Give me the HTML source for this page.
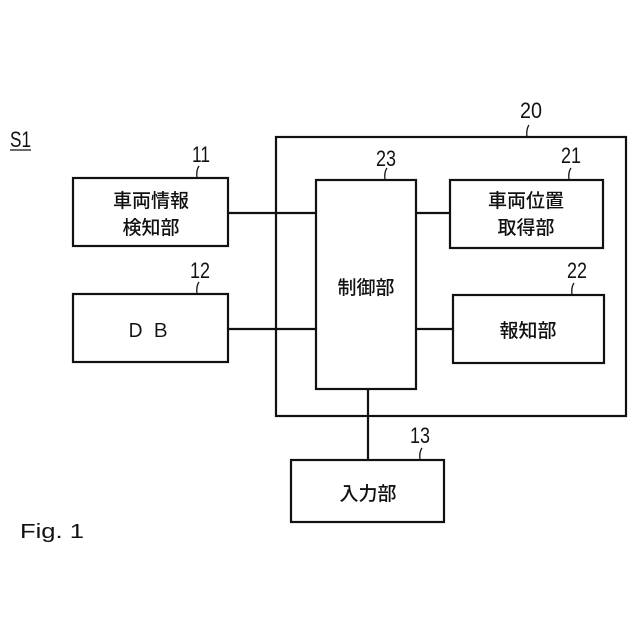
<!DOCTYPE html>
<html><head><meta charset="utf-8"><style>
html,body{margin:0;padding:0;background:#fff;}
svg{display:block;}
text{font-family:"Liberation Sans","Noto Sans CJK JP",sans-serif;fill:#111;}
</style></head><body>
<svg width="640" height="640" viewBox="0 0 640 640" xmlns="http://www.w3.org/2000/svg">
<g fill="none" stroke="#111" stroke-width="2.2">
<rect x="276" y="137" width="350" height="279"/>
<rect x="73" y="178" width="155" height="68"/>
<rect x="73" y="294" width="155" height="68"/>
<rect x="316" y="180" width="100" height="209"/>
<rect x="450" y="180" width="153" height="68"/>
<rect x="453" y="295" width="151" height="68"/>
<rect x="291" y="460" width="153" height="62"/>
<line x1="228" y1="213" x2="316" y2="213"/>
<line x1="228" y1="329" x2="316" y2="329"/>
<line x1="416" y1="213" x2="450" y2="213"/>
<line x1="416" y1="329" x2="453" y2="329"/>
<line x1="368" y1="389" x2="368" y2="460"/>
<line x1="10" y1="150" x2="31" y2="150" stroke-width="1.3"/>
</g>
<g fill="none" stroke="#111" stroke-width="1.3">
<path d="M197 178 q-1 -8 2 -12"/>
<path d="M197 294 q-1 -8 2 -12"/>
<path d="M385 180 q-1 -8 2 -12"/>
<path d="M569 180 q-1 -8 2 -12"/>
<path d="M572 295 q-1 -8 2 -12"/>
<path d="M527 137 q-1 -8 2 -12"/>
<path d="M420 460 q-1 -8 2 -12"/>
</g>
<g font-size="22">
<text x="10" y="147" textLength="21" lengthAdjust="spacingAndGlyphs">S1</text>
<text x="192" y="162" textLength="18" lengthAdjust="spacingAndGlyphs">11</text>
<text x="190" y="278" textLength="20" lengthAdjust="spacingAndGlyphs">12</text>
<text x="376" y="166" textLength="20" lengthAdjust="spacingAndGlyphs">23</text>
<text x="561" y="163" textLength="20" lengthAdjust="spacingAndGlyphs">21</text>
<text x="567" y="278" textLength="20" lengthAdjust="spacingAndGlyphs">22</text>
<text x="520" y="118" textLength="22" lengthAdjust="spacingAndGlyphs">20</text>
<text x="410" y="443" textLength="20" lengthAdjust="spacingAndGlyphs">13</text>
</g>
<g font-size="19" font-weight="500" text-anchor="middle">
<text x="151" y="207">車両情報</text>
<text x="151" y="234">検知部</text>
<text x="151" y="337" letter-spacing="6" font-weight="normal">ＤＢ</text>
<text x="366" y="294">制御部</text>
<text x="526" y="207">車両位置</text>
<text x="526" y="234">取得部</text>
<text x="528" y="337">報知部</text>
<text x="368" y="500">入力部</text>
</g>
<text x="20" y="538" font-size="20" font-family="DejaVu Sans Mono" textLength="64" lengthAdjust="spacingAndGlyphs">Fig. 1</text>
</svg>
</body></html>
